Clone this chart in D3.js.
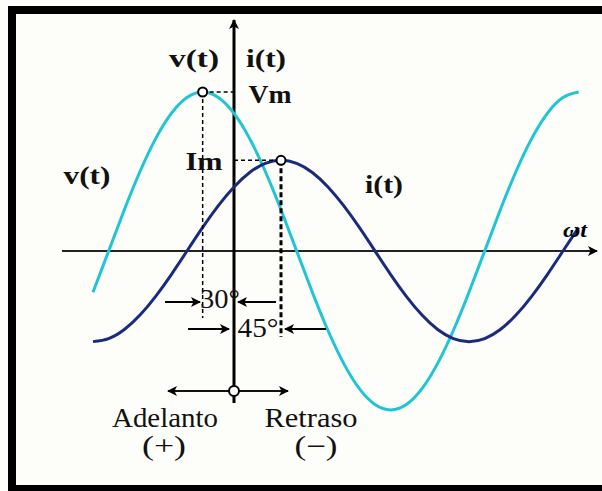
<!DOCTYPE html>
<html>
    <head>
        <meta charset="UTF-8"/>
        <style>
            body { margin: 0; background: #fdfdf9; overflow: hidden; }
            svg { display: block; }
        </style>
    </head>
    <body>
        <script src="https://d3js.org/d3.v7.min.js" type="text/javascript"></script>
        <script>
        let width = 602;
        let height = 491;

        // angle (degrees of wt) where the curves were read
        let angles = [-135, -120, -105, -90, -75, -60, -45, -30, -15, 0, 15, 30, 45, 60, 75, 90,
                      105, 120, 135, 150, 165, 180, 195, 210, 225, 240, 255, 270, 285, 300, 315, 330];
        // v(t), relative to Vm
        let vValues = [-0.259, 0, 0.259, 0.5, 0.707, 0.866, 0.966, 1, 0.966, 0.866, 0.707, 0.5, 0.259, 0, -0.259, -0.5,
                       -0.707, -0.866, -0.966, -1, -0.966, -0.866, -0.707, -0.5, -0.259, 0, 0.259, 0.5, 0.707, 0.866, 0.966, 1];
        // i(t), same scale
        let iValues = [-0.57, -0.551, -0.494, -0.403, -0.285, -0.148, 0, 0.148, 0.285, 0.403, 0.494, 0.551, 0.57, 0.551, 0.494, 0.403,
                       0.285, 0.148, 0, -0.148, -0.285, -0.403, -0.494, -0.551, -0.57, -0.551, -0.494, -0.403, -0.285, -0.148, 0, 0.148];
        let vPeak = {angle: -30, value: 1};
        let iPeak = {angle: 45, value: 0.57};

        let x = d3.scaleLinear().domain([0, 360]).range([234, 610]);
        let y = d3.scaleLinear().domain([-1, 1]).range([410, 92]);

        let svg = d3.select("body")
            .append("svg")
            .attr("width", width)
            .attr("height", height);

        let defs = svg.append("defs");
        defs.append("marker")
            .attr("id", "head")
            .attr("viewBox", "0 0 10 10")
            .attr("refX", 9)
            .attr("refY", 5)
            .attr("markerWidth", 13)
            .attr("markerHeight", 10)
            .attr("markerUnits", "userSpaceOnUse")
            .attr("orient", "auto-start-reverse")
            .append("path")
            .attr("d", "M0,0 L10,5 L0,10 L2.5,5 Z")
            .attr("fill", "#000");

        // frame
        svg.append("rect")
            .attr("x", 12).attr("y", 10)
            .attr("width", 620).attr("height", 479)
            .attr("fill", "none")
            .attr("stroke", "#000")
            .attr("stroke-width", 8);

        // axes
        svg.append("line")
            .attr("x1", 62).attr("x2", 597)
            .attr("y1", y(0)).attr("y2", y(0))
            .attr("stroke", "#222")
            .attr("stroke-width", 2)
            .attr("marker-end", "url(#head)");
        svg.append("line")
            .attr("x1", x(0)).attr("x2", x(0))
            .attr("y1", 403).attr("y2", 20)
            .attr("stroke", "#000")
            .attr("stroke-width", 3)
            .attr("marker-end", "url(#head)");
        svg.append("line")
            .attr("x1", 168).attr("x2", 288)
            .attr("y1", 391).attr("y2", 391)
            .attr("stroke", "#111")
            .attr("stroke-width", 2)
            .attr("marker-start", "url(#head)")
            .attr("marker-end", "url(#head)");
        svg.append("circle")
            .attr("cx", x(0)).attr("cy", 391).attr("r", 5)
            .attr("fill", "#fff").attr("stroke", "#000").attr("stroke-width", 2);

        // curves
        let line = d3.line()
            .x(function(d) { return x(d[0]); })
            .y(function(d) { return y(d[1]); })
            .curve(d3.curveNatural);
        svg.append("path")
            .attr("d", line(d3.zip(angles, vValues)))
            .attr("fill", "none")
            .attr("stroke", "#1fc4d5")
            .attr("stroke-width", 3);
        svg.append("path")
            .attr("d", line(d3.zip(angles, iValues)))
            .attr("fill", "none")
            .attr("stroke", "#1a2a7c")
            .attr("stroke-width", 3);

        // peak guides
        let dash = svg.append("g")
            .attr("stroke", "#000")
            .attr("stroke-width", 1.5)
            .attr("stroke-dasharray", "4,3");
        dash.append("line")
            .attr("x1", x(vPeak.angle)).attr("x2", x(0))
            .attr("y1", y(vPeak.value)).attr("y2", y(vPeak.value));
        dash.append("line")
            .attr("x1", x(vPeak.angle)).attr("x2", x(vPeak.angle))
            .attr("y1", y(vPeak.value)).attr("y2", 318);
        dash.append("line")
            .attr("x1", x(0)).attr("x2", x(iPeak.angle))
            .attr("y1", y(iPeak.value)).attr("y2", y(iPeak.value));
        dash.append("line")
            .attr("x1", x(iPeak.angle)).attr("x2", x(iPeak.angle))
            .attr("y1", y(iPeak.value)).attr("y2", 337)
            .attr("stroke-width", 3)
            .attr("stroke-dasharray", "5,3");

        svg.selectAll("circle.peak")
            .data([vPeak, iPeak])
            .enter()
            .append("circle")
            .attr("class", "peak")
            .attr("cx", function(d) { return x(d.angle); })
            .attr("cy", function(d) { return y(d.value); })
            .attr("r", 4.5)
            .attr("fill", "#fff")
            .attr("stroke", "#000")
            .attr("stroke-width", 2);

        // phase arrows
        let arrows = [
            {x1: 165, x2: 200, y: 302},
            {x1: 276, x2: 238, y: 302},
            {x1: 188, x2: 229, y: 329},
            {x1: 326, x2: 285, y: 329}
        ];
        svg.selectAll("line.arrow")
            .data(arrows)
            .enter()
            .append("line")
            .attr("class", "arrow")
            .attr("x1", function(d) { return d.x1; })
            .attr("x2", function(d) { return d.x2; })
            .attr("y1", function(d) { return d.y; })
            .attr("y2", function(d) { return d.y; })
            .attr("stroke", "#000")
            .attr("stroke-width", 2)
            .attr("marker-end", "url(#head)");

        // labels
        let labels = [
            {t: "v(t)", x: 194, y: 67, w: 50, b: true},
            {t: "i(t)", x: 266, y: 67, w: 40, b: true},
            {t: "Vm", x: 270, y: 103, w: 43, b: true},
            {t: "Im", x: 204, y: 170, w: 37, b: true},
            {t: "v(t)", x: 87, y: 184, w: 47, b: true},
            {t: "i(t)", x: 384, y: 193, w: 38, b: true},
            {t: "30°", x: 220, y: 308, w: 40, b: false},
            {t: "45°", x: 258, y: 337, w: 41, b: false},
            {t: "Adelanto", x: 165, y: 427, w: 106, b: false},
            {t: "(+)", x: 164, y: 455, w: 44, b: false},
            {t: "Retraso", x: 311, y: 427, w: 93, b: false},
            {t: "(\u2212)", x: 316, y: 455, w: 43, b: false}
        ];
        svg.selectAll("text.lab")
            .data(labels)
            .enter()
            .append("text")
            .attr("class", "lab")
            .attr("x", function(d) { return d.x - d.w / 2; })
            .attr("y", function(d) { return d.y; })
            .attr("textLength", function(d) { return d.w; })
            .attr("lengthAdjust", "spacingAndGlyphs")
            .attr("font-family", "Liberation Serif, serif")
            .attr("font-weight", function(d) { return d.b ? "bold" : "normal"; })
            .attr("font-size", function(d) { return d.b ? "25px" : "27px"; })
            .attr("fill", "#111")
            .text(function(d) { return d.t; });
        svg.append("text")
            .attr("x", 563).attr("y", 237)
            .attr("textLength", 24)
            .attr("lengthAdjust", "spacingAndGlyphs")
            .attr("font-family", "Liberation Serif, serif")
            .attr("font-style", "italic")
            .attr("font-weight", "bold")
            .attr("font-size", "21px")
            .text("\u03c9t");
        </script>
    </body>
</html>
